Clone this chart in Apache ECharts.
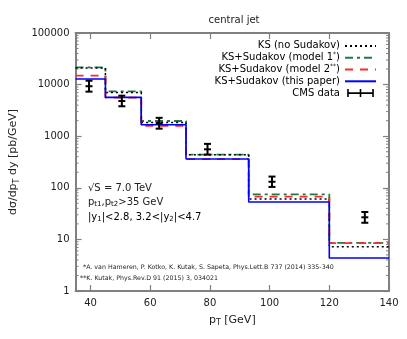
<!DOCTYPE html>
<html><head><meta charset="utf-8">
<script src="https://cdn.jsdelivr.net/npm/echarts@6/dist/echarts.min.js"></script>
<style>html,body{margin:0;padding:0;background:#fff}#c{width:407px;height:339px}</style>
</head><body><div id="c"></div>
<script>
// ---- data ----
const binEdges = [35, 45, 57, 72, 93, 120, 140];
const ksNoSudakov = [21000, 7000, 1850, 438, 60.7, 7.2];
const ksModel1 = [21500, 7400, 1970, 440, 74.8, 8.6];
const ksModel2 = [14900, 5570, 1580, 360, 67.3, 8.5];
const ksThisPaper = [12800, 5650, 1670, 361, 53, 4.35];
const cmsX = [39.5, 50.5, 63, 79.2, 100.8, 131.9];
const cmsY = [9300, 4800, 1780, 557, 131, 26.8];
const cmsLow = [7300, 3800, 1400, 440, 104, 21];
const cmsHigh = [11900, 6100, 2270, 710, 165, 34];
const xTicks = [40, 60, 80, 100, 120, 140];
const yTicks = [1, 10, 100, 1000, 10000, 100000];
const yMinor = [];
for (let k = 0; k < 5; k++) for (let m = 2; m <= 9; m++) yMinor.push(m * Math.pow(10, k));

const FONT = 'DejaVu Sans';
const names = ['KS (no Sudakov)', 'KS+Sudakov (model 1*)', 'KS+Sudakov (model 2**)', 'KS+Sudakov (this paper)', 'CMS data'];
const legendFmt = {
  'KS (no Sudakov)': 'KS (no Sudakov)',
  'KS+Sudakov (model 1*)': 'KS+Sudakov (model 1{sup|*})',
  'KS+Sudakov (model 2**)': 'KS+Sudakov (model 2{sup|**})',
  'KS+Sudakov (this paper)': 'KS+Sudakov (this paper)',
  'CMS data': 'CMS data'
};
function stepData(vals) {
  return binEdges.map((e, i) => [e, vals[Math.min(i, vals.length - 1)]]);
}
const chart = echarts.init(document.getElementById('c'), null, {renderer: 'canvas'});
const axisCol = '#808080';
function lineSeries(name, vals, color, type, width, z) {
  return {
    name, type: 'line', step: 'end', data: stepData(vals), symbol: 'none', showSymbol: false,
    lineStyle: {color, type, width}, itemStyle: {color}, z, animation: false
  };
}
const option = {
  animation: false,
  title: {text: 'central jet', left: 229, top: 10, textAlign: 'center',
    textStyle: {fontFamily: FONT, fontSize: 10, fontWeight: 'normal', color: '#222'}},
  grid: {left: 70, right: 18, top: 33, bottom: 48},
  legend: {
    orient: 'vertical', right: 25, top: 35, align: 'right', itemWidth: 31, itemHeight: 8, itemGap: 0,
    itemStyle: {opacity: 0},
    data: names.slice(0, 4).concat([{name: 'CMS data', itemStyle: {opacity: 1}, icon: 'path://M0,3.6h30v1.8h-30z M0,0h1.8v9h-1.8z M14.1,0h1.8v9h-1.8z M28.2,0h1.8v9h-1.8z'}]),
    formatter: n => legendFmt[n],
    textStyle: {fontFamily: FONT, fontSize: 10, color: '#000', lineHeight: 11.8,
      rich: {sup: {fontFamily: FONT, fontSize: 6, verticalAlign: 'top', lineHeight: 8}}}
  },
  xAxis: [{
    type: 'value', min: 35, max: 140, position: 'bottom',
    name: '{n|p}{s|T}{n| [GeV]}', nameLocation: 'middle', nameGap: 22,
    nameTextStyle: {rich: {n: {fontFamily: FONT, fontSize: 11, color: '#222'}, s: {fontFamily: FONT, fontSize: 8, color: '#222', verticalAlign: 'bottom', padding: [6, 0, 0, 0]}}},
    axisLine: {show: true, lineStyle: {color: axisCol, width: 2}},
    axisTick: {inside: true, length: 6, customValues: xTicks, lineStyle: {color: axisCol, width: 1.2}},
    axisLabel: {customValues: xTicks, margin: 7, fontFamily: FONT, fontSize: 10, color: '#222'},
    splitLine: {show: false}
  }, {
    type: 'value', min: 35, max: 140, position: 'top',
    axisLine: {show: true, lineStyle: {color: axisCol, width: 2}},
    axisTick: {inside: true, length: 6, customValues: xTicks, lineStyle: {color: axisCol, width: 1.2}},
    axisLabel: {show: false}, splitLine: {show: false}
  }],
  yAxis: [{
    type: 'log', logBase: 10, min: 1, max: 100000, position: 'left',
    name: '{n|dσ/dp}{s|T}{n| dy [pb/GeV]}', nameLocation: 'middle', nameGap: 52,
    nameTextStyle: {rich: {n: {fontFamily: FONT, fontSize: 11, color: '#222'}, s: {fontFamily: FONT, fontSize: 8, color: '#222', verticalAlign: 'bottom', padding: [6, 0, 0, 0]}}},
    axisLine: {show: true, lineStyle: {color: axisCol, width: 2}},
    axisTick: {inside: true, length: 6, customValues: yTicks, lineStyle: {color: axisCol, width: 1.2}},
    axisLabel: {customValues: yTicks, margin: 6, fontFamily: FONT, fontSize: 10, color: '#222', formatter: v => String(Math.round(v))},
    splitLine: {show: false}
  }, {
    type: 'log', logBase: 10, min: 1, max: 100000, position: 'right',
    axisLine: {show: true, lineStyle: {color: axisCol, width: 2}},
    axisTick: {inside: true, length: 6, customValues: yTicks, lineStyle: {color: axisCol, width: 1.2}},
    axisLabel: {show: false}, splitLine: {show: false}
  }],
  graphic: [
    {type: 'text', left: 88, top: 183, style: {text: '√S = 7.0 TeV', font: '10px "DejaVu Sans"', fill: '#222'}},
    {type: 'text', left: 88, top: 197, style: {text: '{n|p}{s|t1}{n|,p}{s|t2}{n|>35 GeV}', rich: {n: {fontFamily: FONT, fontSize: 10, fill: '#222', color: '#222'}, s: {fontFamily: FONT, fontSize: 7, color: '#222', padding: [5, 0, 0, 0]}}}},
    {type: 'text', left: 88, top: 212, style: {text: '{n||y}{s|1}{n||<2.8, 3.2<|y}{s|2}{n||<4.7}', rich: {n: {fontFamily: FONT, fontSize: 10, color: '#222'}, s: {fontFamily: FONT, fontSize: 7, color: '#222', padding: [5, 0, 0, 0]}}}},
    {type: 'text', left: 83, top: 264, style: {text: '*A. van Hameren, P. Kotko, K. Kutak, S. Sapeta, Phys.Lett.B 737 (2014) 335-340', font: '6.3px "DejaVu Sans"', fill: '#222'}},
    {type: 'text', left: 80, top: 275, style: {text: '**K. Kutak, Phys.Rev.D 91 (2015) 3, 034021', font: '6.3px "DejaVu Sans"', fill: '#222'}}
  ],
  series: [
    lineSeries(names[0], ksNoSudakov, '#000000', [2, 3], 1.5, 3),
    lineSeries(names[1], ksModel1, '#217a45', [8, 4, 3, 4], 1.8, 2),
    lineSeries(names[2], ksModel2, '#ff2a2a', [8, 7], 1.8, 4),
    lineSeries(names[3], ksThisPaper, '#0000ff', 'solid', 1.6, 5),
    {
      name: 'CMS data', type: 'custom', z: 6, itemStyle: {color: '#000'},
      data: cmsX.map((x, i) => [x, cmsY[i], cmsLow[i], cmsHigh[i]]),
      renderItem: (params, api) => {
        const x = api.value(0);
        const c = api.coord([x, api.value(1)]);
        const lo = api.coord([x, api.value(2)]);
        const hi = api.coord([x, api.value(3)]);
        const st = {stroke: '#000', lineWidth: 2};
        return {type: 'group', children: [
          {type: 'line', shape: {x1: c[0], y1: lo[1], x2: c[0], y2: hi[1]}, style: st},
          {type: 'line', shape: {x1: c[0] - 3.5, y1: lo[1], x2: c[0] + 3.5, y2: lo[1]}, style: st},
          {type: 'line', shape: {x1: c[0] - 3.5, y1: hi[1], x2: c[0] + 3.5, y2: hi[1]}, style: st},
          {type: 'line', shape: {x1: c[0] - 3.5, y1: c[1], x2: c[0] + 3.5, y2: c[1]}, style: st}
        ]};
      }
    },
    {
      name: 'minorTicks', type: 'custom', silent: true, z: 1, clip: false,
      data: yMinor.map(v => [v]),
      renderItem: (params, api) => {
        const v = api.value(0);
        const l = api.coord([35, v]);
        const r = api.coord([140, v]);
        const st = {stroke: axisCol, lineWidth: 1};
        return {type: 'group', children: [
          {type: 'line', shape: {x1: l[0], y1: l[1], x2: l[0] + 3, y2: l[1]}, style: st},
          {type: 'line', shape: {x1: r[0] - 3, y1: r[1], x2: r[0], y2: r[1]}, style: st}
        ]};
      },
      encode: {y: 0}
    }
  ]
};
chart.setOption(option);
</script></body></html>
